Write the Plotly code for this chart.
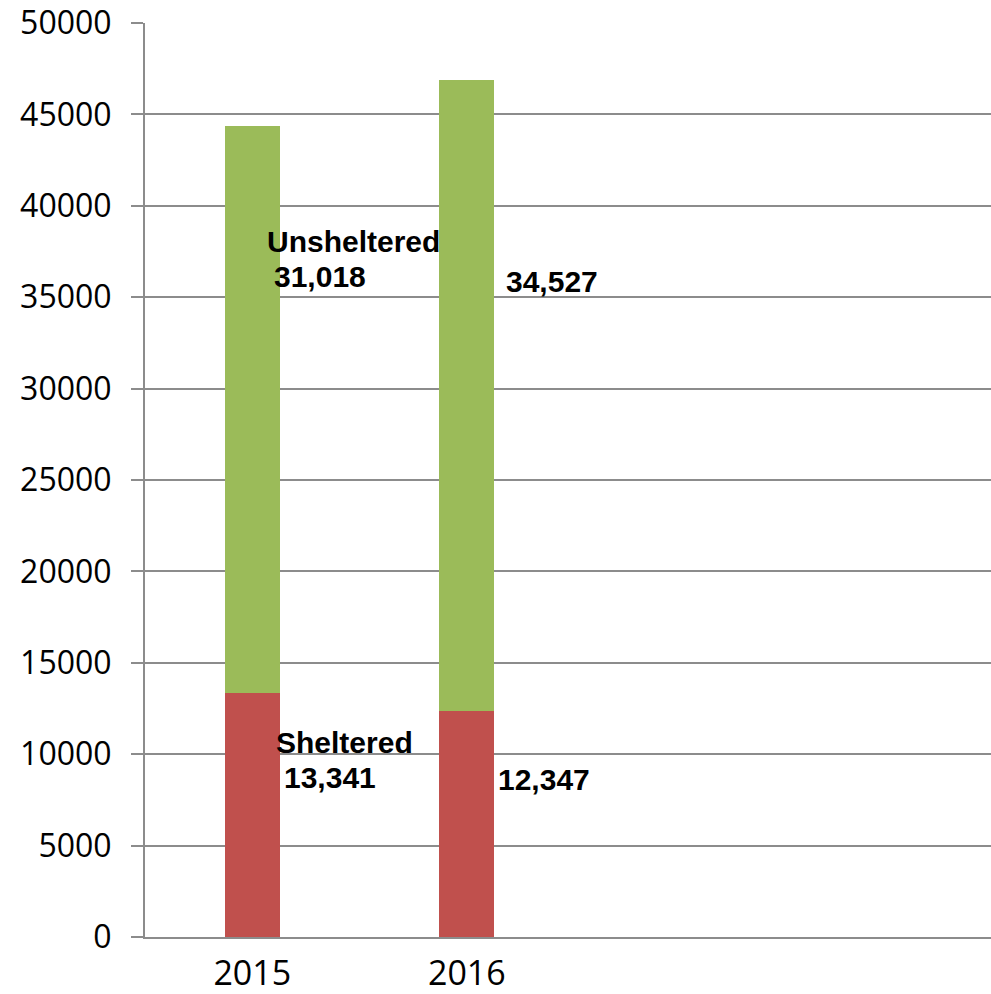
import plotly.graph_objects as go

years = ["2015", "2016"]
sheltered = [13341, 12347]
unsheltered = [31018, 34527]
y_ticks = [0, 5000, 10000, 15000, 20000, 25000, 30000, 35000, 40000, 45000, 50000]

GREEN = "#9BBB59"
RED = "#C0504D"
GRID = "#8c8c8c"

xpos = list(range(len(years)))

fig = go.Figure()
fig.add_trace(go.Bar(x=xpos, y=sheltered, name="Sheltered", marker=dict(color=RED, line=dict(width=0)), width=0.256))
fig.add_trace(go.Bar(x=xpos, y=unsheltered, name="Unsheltered", marker=dict(color=GREEN, line=dict(width=0)), width=0.256))

lab_font = dict(family="Liberation Sans, Arial", size=30, color="black", weight="bold")

def ann(x, y, text):
    fig.add_annotation(x=x, y=y, xref="x", yref="y", text=text, showarrow=False,
                       xanchor="left", yanchor="middle", font=lab_font, borderpad=0)

ann(0.063, 38074, "Unsheltered")
ann(0.096, 36160, f"{unsheltered[0]:,}")
ann(1.177, 35886, f"{unsheltered[1]:,}")
ann(0.105, 10667, "Sheltered")
ann(0.142, 8753, f"{sheltered[0]:,}")
ann(1.14, 8643, f"{sheltered[1]:,}")

fig.update_layout(
    width=991, height=994,
    margin=dict(l=145, r=0, t=23, b=57),
    barmode="stack",
    showlegend=False,
    plot_bgcolor="white", paper_bgcolor="white",
    xaxis=dict(range=[-0.5, 3.443], tickvals=xpos, ticktext=years, showgrid=False, zeroline=False,
               showline=True, linecolor=GRID, linewidth=2, ticks="", automargin=False,
               tickfont=dict(family="Open Sans", size=34, color="black"), ticklabelstandoff=5),
    yaxis=dict(range=[0, 50000], tickvals=y_ticks, ticktext=[str(v) for v in y_ticks],
               showgrid=True, gridcolor=GRID, gridwidth=1.5, zeroline=False,
               showline=True, linecolor=GRID, linewidth=2, automargin=False,
               ticks="outside", ticklen=12, tickwidth=2, tickcolor=GRID,
               tickfont=dict(family="Open Sans", size=32, color="black"), ticklabelstandoff=13),
)

fig.write_html("out.html", config={"displayModeBar": False},
               post_script="document.body.style.margin='0';document.body.style.overflow='hidden';")
